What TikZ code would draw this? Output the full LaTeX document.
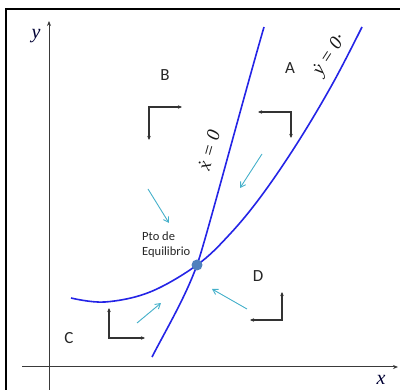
\documentclass[tikz,border=0pt]{standalone}
\usepackage{fontspec}
\setmainfont{Carlito}
\newfontfamily\serf{Liberation Serif}
\usetikzlibrary{arrows.meta}
\definecolor{curveblue}{HTML}{2424E6}
\definecolor{cyanarrow}{HTML}{45B0CA}
\definecolor{dotblue}{HTML}{4F81BD}
\definecolor{axisgray}{HTML}{3A3A3A}
\tikzset{
  axisline/.style={axisgray, line width=1pt, -{Stealth[length=5pt,width=4pt]}},
  nullcline/.style={curveblue, line width=1.6pt},
  corner/.style={black!80, line width=1.2pt, {Stealth[length=4pt,width=3.5pt]}-{Stealth[length=4pt,width=3.5pt]}},
  flow/.style={cyanarrow, line width=0.9pt, -{Straight Barb[length=5pt,width=6pt]}},
  region/.style={font=\fontsize{17}{19}\selectfont, text=black!85, inner sep=0pt},
  axislabel/.style={font=\serf\itshape\fontsize{20}{22}\selectfont, text=black!80!blue, inner sep=0pt},
  clabel/.style={font=\serf\itshape\fontsize{19}{21}\selectfont, text=black!90, inner sep=0pt}
}
\begin{document}
\begin{tikzpicture}[x=1pt,y=-1pt]
\useasboundingbox (0,0) rectangle (400,390);
% frame
\draw[black, line width=2pt] (6,391) -- (6,9) -- (401,9);
% axes
\coordinate (ys) at (49,391);
\coordinate (ye) at (49,21);
\coordinate (xs) at (22,367);
\coordinate (xe) at (398,367);
\draw[axisline] (ys) -- (ye);
\draw[axisline] (xs) -- (xe);
\node[axislabel] (ylab) at (36,36) {y};
\node[axislabel] (xlab) at (381,380) {x};
% nullclines
\draw[nullcline] (152,357) .. controls (167,328) and (185,298) .. (197,265)
                 .. controls (205,243) and (240,110) .. (264,27);
\draw[nullcline] plot[smooth, tension=0.6] coordinates {(71,298) (105,302) (150,292) (197,265) (230,234) (262,195) (298,142) (333,83) (362,27)};
\node[clabel, rotate=74] (xdot) at (209,150) {ẋ = 0};
\node[clabel, rotate=57] (ydot) at (330,55) {ẏ = 0·};
% equilibrium
\node[circle, fill=dotblue, minimum size=11pt, inner sep=0pt] (eq) at (197,265) {};
\node[font=\fontsize{12.5}{15}\selectfont, align=left, anchor=north west, inner sep=0pt, text=black!85] (eqlab) at (142,232) {Pto de\\Equilibrio};
% region labels
\node[region] (A) at (290,68) {A};
\node[region] (B) at (165,75) {B};
\node[region] (C) at (69,338) {C};
\node[region] (D) at (258,276) {D};
% corner arrows
\coordinate (b1) at (182,107); \coordinate (b2) at (149,140);
\coordinate (a1) at (258,112); \coordinate (a2) at (291,138);
\coordinate (c1) at (109,308); \coordinate (c2) at (145,338);
\coordinate (d1) at (282,292); \coordinate (d2) at (250,320);
\draw[corner] (b2) |- (b1);
\draw[corner] (a1) -| (a2);
\draw[corner] (c1) |- (c2);
\draw[corner] (d2) -| (d1);
% flow arrows
\coordinate (f1s) at (262,154); \coordinate (f1e) at (240,188);
\coordinate (f2s) at (148,189); \coordinate (f2e) at (169,223);
\coordinate (f3s) at (137,323); \coordinate (f3e) at (161,303);
\coordinate (f4s) at (247,309); \coordinate (f4e) at (212,289);
\draw[flow] (f1s) -- (f1e);
\draw[flow] (f2s) -- (f2e);
\draw[flow] (f3s) -- (f3e);
\draw[flow] (f4s) -- (f4e);
\end{tikzpicture}
\end{document}
